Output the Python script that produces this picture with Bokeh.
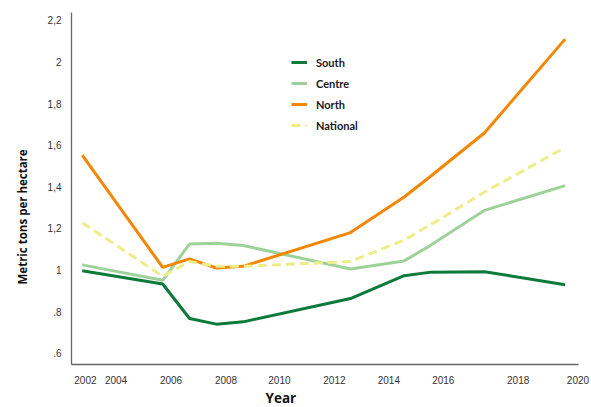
from bokeh.plotting import figure
from bokeh.models import Range1d, FixedTicker, Legend, LegendItem, Title
from bokeh.embed import file_html
from bokeh.resources import INLINE

years = [2002, 2005, 2006, 2007, 2008, 2012, 2014, 2015, 2017, 2020]
south = [0.997, 0.933, 0.767, 0.740, 0.751, 0.863, 0.973, 0.990, 0.992, 0.929]
centre = [1.025, 0.951, 1.125, 1.129, 1.118, 1.005, 1.044, 1.120, 1.287, 1.406]
north = [1.552, 1.013, 1.054, 1.010, 1.018, 1.180, 1.351, 1.452, 1.660, 2.110]
national = [1.227, 0.970, 1.041, 1.018, 1.018, 1.041, 1.144, 1.219, 1.375, 1.589]

x_tick_pos = [2002.12, 2003.26, 2005.31, 2007.36, 2009.35, 2011.40, 2013.43, 2015.46, 2018.25, 2020.48]
x_tick_labels = ["2002", "2004", "2006", "2008", "2010", "2012", "2014", "2016", "2018", "2020"]
y_tick_pos = [0.6, 0.8, 1.0, 1.2, 1.4, 1.6, 1.8, 2.0, 2.2]
y_tick_labels = [".6", ".8", "1", "1,2", "1,4", "1,6", "1,8", "2", "2,2"]

p = figure(width=591, height=407, output_backend="svg", toolbar_location=None,
           x_range=Range1d(2001.60, 2020.50), y_range=Range1d(0.546, 2.238),
           min_border_left=71, min_border_right=13, min_border_top=12, min_border_bottom=40)
p.outline_line_color = None
p.xgrid.visible = False
p.ygrid.visible = False
p.background_fill_color = "white"

r_centre = p.line(years, centre, line_color="#9fd29a", line_width=3)
r_south = p.line(years, south, line_color="#0b7a3a", line_width=3)
r_north = p.line(years, north, line_color="#f28705", line_width=3)
r_nat = p.line(years, national, line_color="#edee8a", line_width=3, line_dash="9 5")

for ax in (p.xaxis[0], p.yaxis[0]):
    ax.axis_line_color = "#666666"
    ax.axis_line_width = 1.3
    ax.major_tick_line_color = None
    ax.minor_tick_line_color = None
    ax.major_label_text_font = "Liberation Sans"
    ax.major_label_text_font_size = "10px"
    ax.major_label_text_color = "#333333"

p.xaxis.ticker = FixedTicker(ticks=x_tick_pos)
p.xaxis.major_label_overrides = dict(zip(x_tick_pos, x_tick_labels))
p.xaxis.major_label_standoff = 5

p.yaxis.ticker = FixedTicker(ticks=y_tick_pos)
p.yaxis.major_label_overrides = dict(zip(y_tick_pos, y_tick_labels))
p.yaxis.major_label_standoff = 4

# x-axis title, left of centre as in the original
p.add_layout(Title(text="Year", align="left", offset=194, standoff=1,
                   text_font="Open Sans", text_font_style="bold",
                   text_font_size="13.5px", text_color="#111111"), "below")
# y-axis title, below centre as in the original
p.add_layout(Title(text="Metric tons per hectare", align="left", offset=80,
                   vertical_align="top", standoff=26,
                   text_font="Open Sans", text_font_style="bold",
                   text_font_size="11.5px", text_color="#111111"), "left")

legend = Legend(items=[
    LegendItem(label="South", renderers=[r_south]),
    LegendItem(label="Centre", renderers=[r_centre]),
    LegendItem(label="North", renderers=[r_north]),
    LegendItem(label="National", renderers=[r_nat]),
], location=(220, 231))
legend.border_line_color = None
legend.background_fill_alpha = 0
legend.padding = 0
legend.margin = 0
legend.spacing = 5
legend.glyph_width = 16
legend.glyph_height = 16
legend.label_height = 16
legend.label_standoff = 9
legend.label_text_font = "Lato"
legend.label_text_font_style = "bold"
legend.label_text_font_size = "11px"
legend.label_text_color = "#1a1a1a"
p.add_layout(legend, "center")

open("out.html", "w").write(file_html(p, INLINE))
